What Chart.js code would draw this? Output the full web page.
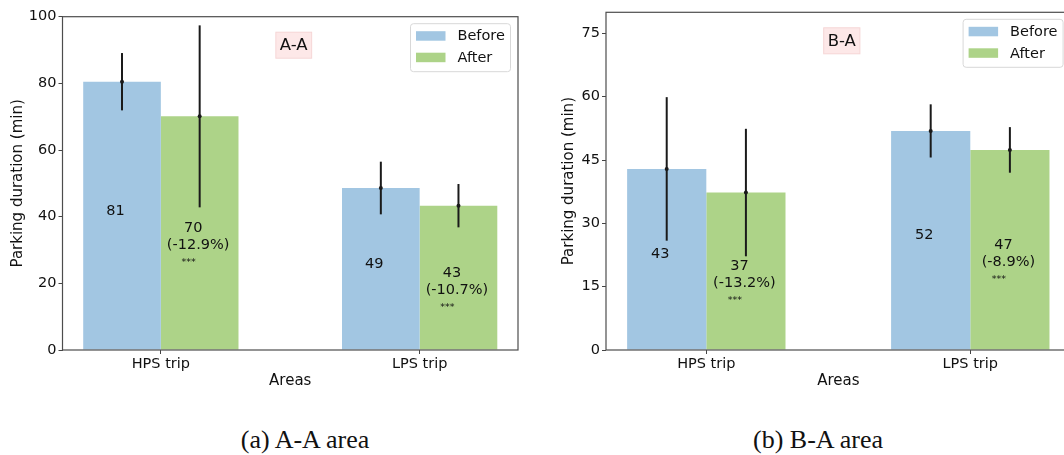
<!DOCTYPE html>
<html>
<head>
<meta charset="utf-8">
<script src="https://cdn.jsdelivr.net/npm/chart.js@4.4.1/dist/chart.umd.min.js"></script>
<style>
  html, body { margin: 0; padding: 0; background: #fff; }
  body { width: 1064px; height: 455px; overflow: hidden; position: relative; }
  canvas { position: absolute; top: 0; }
  #aaChart { left: 0; }
  #baChart { left: 540px; }
  .caption {
    position: absolute; top: 425px; line-height: 30px;
    font-family: "Liberation Serif", "Times New Roman", serif; font-size: 26px;
    color: #111; transform: translateX(-50%); white-space: nowrap;
  }
</style>
</head>
<body>
<canvas id="aaChart" width="535" height="400"></canvas>
<canvas id="baChart" width="540" height="400"></canvas>
<div class="caption" style="left:305px">(a) A-A area</div>
<div class="caption" style="left:818px">(b) B-A area</div>

<script>
// Shared categories / series
const categories = ['HPS trip', 'LPS trip'];
const seriesNames = ['Before', 'After'];

// A-A area
const aaBefore = [80.5, 48.6];
const aaAfter = [70.1, 43.3];
const aaBeforeErr = [8.6, 7.9];
const aaAfterErr = [27.3, 6.5];
const aaChange = ['-12.9%', '-10.7%'];
const aaTicks = [0, 20, 40, 60, 80, 100];

// B-A area
const baBefore = [42.9, 51.9];
const baAfter = [37.3, 47.4];
const baBeforeErr = [17.0, 6.3];
const baAfterErr = [15.1, 5.4];
const baChange = ['-13.2%', '-8.9%'];
const baTicks = [0, 15, 30, 45, 60, 75];

const BLUE = '#a2c6e2';
const GREEN = '#add388';
const TEXT = '#111';
const FONT = 'DejaVu Sans';

// Error bars, value labels, frame, legend and area tag
const decorPlugin = {
    id: 'decor',
    afterDatasetsDraw(chart) {
        const ctx = chart.ctx;
        const area = chart.chartArea;
        const y = chart.scales.y;
        const opts = chart.options.plugins.decor;
        ctx.save();

        chart.data.datasets.forEach((ds, di) => {
            const meta = chart.getDatasetMeta(di);
            meta.data.forEach((bar, i) => {
                const v = ds.data[i].y;
                const e = ds.errors[i];
                // error bar + mean dot
                ctx.strokeStyle = '#1a1a1a';
                ctx.lineWidth = 2;
                ctx.beginPath();
                ctx.moveTo(bar.x, y.getPixelForValue(v + e));
                ctx.lineTo(bar.x, y.getPixelForValue(v - e));
                ctx.stroke();
                ctx.fillStyle = '#1a1a1a';
                ctx.beginPath();
                ctx.arc(bar.x, y.getPixelForValue(v), 2, 0, Math.PI * 2);
                ctx.fill();

                // labels inside the bar
                const mid = y.getPixelForValue(v / 2);
                ctx.fillStyle = TEXT;
                ctx.textAlign = 'center';
                ctx.textBaseline = 'middle';
                ctx.font = '14.5px "' + FONT + '"';
                ctx.fillText(String(Math.round(v)), bar.x - 6.5, mid - 5);
                if (ds.change) {
                    ctx.fillText('(' + ds.change[i] + ')', bar.x - 1.5, mid + 12);
                    ctx.font = '9.5px "' + FONT + '"';
                    ctx.fillText('***', bar.x - 11, mid + 29.5);
                }
            });
        });

        // axes frame
        ctx.strokeStyle = '#4d4d4d';
        ctx.lineWidth = 1.2;
        ctx.strokeRect(area.left, area.top, area.right - area.left, area.bottom - area.top);

        // area tag
        ctx.font = '16.5px "' + FONT + '"';
        const tw = ctx.measureText(opts.tag).width + 8;
        const tx = (area.left + area.right) / 2 + 3.5;
        const ty = area.top + 28.5;
        ctx.fillStyle = '#fde8e8';
        ctx.fillRect(tx - tw / 2, ty - 13, tw, 26);
        ctx.strokeStyle = '#f6d6d6';
        ctx.lineWidth = 1;
        ctx.strokeRect(tx - tw / 2, ty - 13, tw, 26);
        ctx.fillStyle = TEXT;
        ctx.textAlign = 'center';
        ctx.textBaseline = 'middle';
        ctx.fillText(opts.tag, tx, ty + 1);

        // legend
        const lw = 100, lh = 48;
        const lx = area.right - 7.5 - lw;
        const ly = area.top + 7;
        ctx.fillStyle = 'rgba(255,255,255,0.85)';
        ctx.strokeStyle = '#d8d8d8';
        ctx.lineWidth = 1;
        ctx.beginPath();
        ctx.roundRect(lx, ly, lw, lh, 3);
        ctx.fill();
        ctx.stroke();
        ctx.font = '14.5px "' + FONT + '"';
        ctx.textAlign = 'left';
        chart.data.datasets.forEach((ds, di) => {
            const ry = ly + 12 + di * 21.5;
            ctx.fillStyle = ds.backgroundColor;
            ctx.fillRect(lx + 5.5, ry - 4.5, 29.5, 9.5);
            ctx.fillStyle = TEXT;
            ctx.fillText(ds.label, lx + 47, ry + 1);
        });

        ctx.restore();
    }
};

function makeChart(id, cfg) {
    const tickFont = { family: FONT, size: 14.5 };
    const titleFont = { family: FONT, size: 15 };
    return new Chart(document.getElementById(id), {
        type: 'bar',
        data: {
            datasets: [
                {
                    label: seriesNames[0],
                    data: cfg.before.map((v, i) => ({ x: i, y: v })),
                    errors: cfg.beforeErr,
                    backgroundColor: BLUE
                },
                {
                    label: seriesNames[1],
                    data: cfg.after.map((v, i) => ({ x: i, y: v })),
                    errors: cfg.afterErr,
                    change: cfg.change,
                    backgroundColor: GREEN
                }
            ]
        },
        options: {
            responsive: false,
            animation: false,
            layout: { padding: { left: cfg.padLeft, top: cfg.padTop, right: cfg.padRight, bottom: 0 } },
            datasets: { bar: { categoryPercentage: 0.6, barPercentage: 1.0 } },
            plugins: {
                legend: { display: false },
                tooltip: { enabled: false },
                decor: { tag: cfg.tag }
            },
            scales: {
                x: {
                    type: 'linear',
                    min: -0.38,
                    max: 1.38,
                    offset: false,
                    afterBuildTicks: s => { s.ticks = categories.map((c, i) => ({ value: i })); },
                    afterFit: s => { s.height = 50; },
                    ticks: {
                        callback: v => categories[v],
                        font: tickFont, color: TEXT, padding: 2,
                        maxRotation: 0, autoSkip: false
                    },
                    grid: { display: true, offset: false, drawOnChartArea: false, drawTicks: true, tickLength: 4, color: '#444' },
                    border: { display: false },
                    title: { display: true, text: 'Areas', font: titleFont, color: TEXT, padding: { top: 0, bottom: 10 } }
                },
                y: {
                    min: 0,
                    max: cfg.yMax,
                    afterBuildTicks: s => { s.ticks = cfg.ticks.map(v => ({ value: v })); },
                    afterFit: s => { s.width = cfg.yWidth; },
                    ticks: { font: tickFont, color: TEXT, padding: 2 },
                    grid: { display: true, drawOnChartArea: false, drawTicks: true, tickLength: 4, color: '#444' },
                    border: { display: false },
                    title: { display: true, text: 'Parking duration (min)', font: titleFont, color: TEXT, padding: { top: 0, bottom: 0 } }
                }
            }
        },
        plugins: [decorPlugin]
    });
}

makeChart('aaChart', {
    before: aaBefore, after: aaAfter, beforeErr: aaBeforeErr, afterErr: aaAfterErr,
    change: aaChange, ticks: aaTicks, yMax: 100, tag: 'A-A',
    padLeft: 9.5, yWidth: 53, padTop: 16.7, padRight: 17
});

makeChart('baChart', {
    before: baBefore, after: baAfter, beforeErr: baBeforeErr, afterErr: baAfterErr,
    change: baChange, ticks: baTicks, yMax: 80, tag: 'B-A',
    padLeft: 20.5, yWidth: 45.5, padTop: 12.3, padRight: 9.4
});
</script>
</body>
</html>
